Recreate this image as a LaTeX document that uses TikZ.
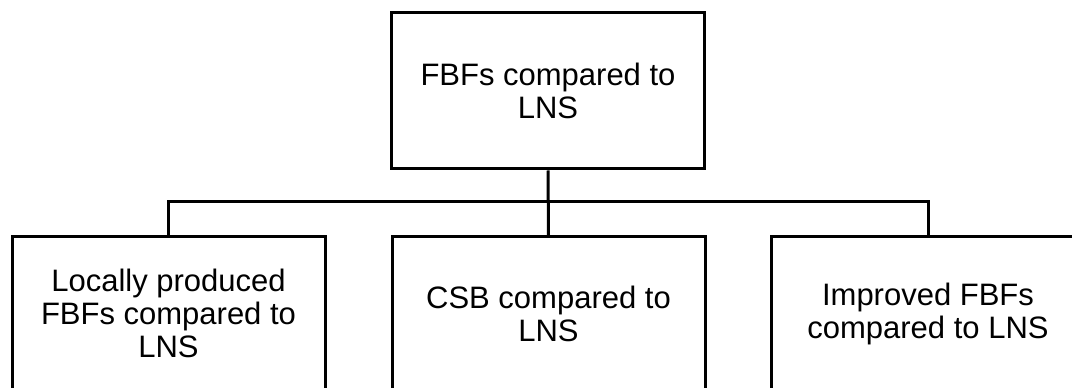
\documentclass[tikz,border=0pt]{standalone}
\usepackage{fontspec}
\setmainfont{Liberation Sans}
\begin{document}
\begin{tikzpicture}[x=1pt, y=1pt, font=\fontsize{31}{33}\selectfont, line width=3pt,
          box/.style={draw, align=center, inner sep=0pt, minimum width=313pt},
          head/.style={box, minimum height=156pt},
          leaf/.style={box, minimum height=153pt}]
        \useasboundingbox (0,0) rectangle (1072,388);
        \clip (0,0) rectangle (1072,388);
        \node[head] (top) at (548,297) {FBFs compared to\\ LNS};
        \node[leaf] (loc) at (168.5,74.5) {Locally produced\\ FBFs compared to\\ LNS};
        \node[leaf] (csb) at (548.5,74.5) {CSB compared to\\ LNS};
        \node[leaf] (imp) at (928,74.5) {Improved FBFs\\ compared to LNS};
        \draw (top.south) -- (csb.north);
        \draw (loc.north) -- ++(0,34) -| (imp.north);
      \end{tikzpicture}
\end{document}
